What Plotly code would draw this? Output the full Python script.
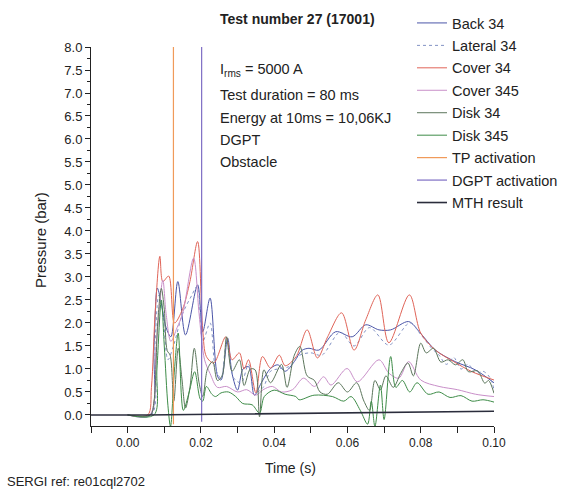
import plotly.graph_objects as go

# ---------------- data ----------------
t_cover34 = [0.0, 0.0055, 0.0065, 0.0075, 0.0088, 0.0096, 0.0112, 0.0128, 0.015, 0.017, 0.0191, 0.0205,
             0.0215, 0.0235, 0.0268, 0.0285, 0.0305, 0.0318, 0.033, 0.035, 0.0368, 0.039, 0.0414, 0.043,
             0.046, 0.049, 0.0518, 0.0546, 0.0584, 0.0618, 0.065, 0.0683, 0.0713, 0.0769, 0.080, 0.084,
             0.089, 0.094, 0.100]
p_cover34 = [0.0, 0.0, 0.6, 2.2, 3.45, 2.9, 3.02, 2.0, 2.3, 2.9, 3.77, 1.85,
             1.27, 1.13, 1.7, 1.2, 1.35, 1.0, 1.2, 0.48, 1.27, 1.02, 1.3, 1.07,
             1.27, 1.85, 1.24, 1.7, 2.22, 1.41, 2.07, 2.61, 1.57, 2.61, 1.78, 1.41,
             1.16, 0.94, 0.76]

t_back34 = [0.0, 0.0062, 0.0072, 0.0081, 0.009, 0.0105, 0.0118, 0.0137, 0.0158, 0.0191, 0.0205, 0.0225,
            0.0246, 0.0255, 0.0273, 0.0285, 0.030, 0.0315, 0.033, 0.0346, 0.0365, 0.039, 0.041, 0.043,
            0.0455, 0.0475, 0.0495, 0.0522, 0.0568, 0.0613, 0.065, 0.0686, 0.0718, 0.0767, 0.0799, 0.084,
            0.0894, 0.0949, 0.100]
p_back34 = [0.0, 0.0, 1.5, 2.76, 2.5, 1.9, 1.7, 2.9, 1.74, 2.83, 1.81, 2.54,
            0.83, 0.76, 1.67, 0.9, 0.54, 1.0, 1.05, 0.43, 0.7, 1.01, 1.09, 0.95,
            1.16, 1.4, 1.45, 1.41, 1.81, 1.7, 1.96, 1.85, 1.85, 2.03, 1.78, 1.41,
            1.16, 0.98, 0.7]

t_lateral34 = [0.0, 0.0065, 0.0075, 0.0085, 0.0095, 0.011, 0.0125, 0.015, 0.0175, 0.019, 0.0205, 0.0225,
               0.024, 0.0255, 0.027, 0.029, 0.031, 0.033, 0.035, 0.037, 0.039, 0.041, 0.044, 0.047,
               0.050, 0.053, 0.058, 0.0618, 0.066, 0.0713, 0.077, 0.080, 0.083, 0.085, 0.087, 0.089,
               0.091, 0.093, 0.095, 0.097, 0.099, 0.100]
p_lateral34 = [0.0, 0.0, 1.6, 2.6, 2.3, 1.2, 1.5, 2.2, 2.6, 2.8, 1.6, 2.0,
               1.0, 0.8, 1.6, 0.8, 0.7, 1.1, 0.5, 0.6, 0.95, 1.0, 1.05, 1.3,
               1.35, 1.3, 1.8, 1.5, 1.9, 1.52, 2.0, 1.75, 1.45, 1.3, 1.1, 1.25,
               1.0, 1.1, 0.9, 0.95, 0.8, 0.55]

t_cover345 = [0.0, 0.006, 0.0078, 0.0096, 0.0105, 0.0118, 0.0135, 0.015, 0.018, 0.0195, 0.021, 0.0225,
              0.0245, 0.027, 0.030, 0.0325, 0.035, 0.037, 0.0395, 0.042, 0.045, 0.048, 0.051, 0.0535,
              0.0555, 0.0599, 0.0627, 0.0686, 0.0713, 0.074, 0.0767, 0.080, 0.085, 0.090, 0.095, 0.100]
p_cover345 = [0.0, 0.0, 1.5, 2.93, 2.2, 1.6, 1.9, 2.2, 3.41, 2.2, 1.2, 0.9,
              0.6, 0.62, 0.5, 0.55, 0.43, 0.55, 0.62, 0.5, 0.55, 0.8, 0.62, 0.83,
              0.65, 1.01, 0.72, 1.2, 0.91, 0.8, 1.16, 0.76, 0.62, 0.55, 0.45, 0.4]

t_disk34 = [0.0, 0.0062, 0.0072, 0.0082, 0.0092, 0.010, 0.0108, 0.0116, 0.0126, 0.0138, 0.0148, 0.0158,
            0.017, 0.0182, 0.0195, 0.0205, 0.0218, 0.0232, 0.0245, 0.0258, 0.027, 0.0285, 0.0305, 0.0318,
            0.0335, 0.0348, 0.036, 0.0372, 0.039, 0.042, 0.0435, 0.0455, 0.047, 0.049, 0.051, 0.0525,
            0.0545, 0.0575, 0.060, 0.0625, 0.0645, 0.066, 0.0675, 0.069, 0.0705, 0.0725, 0.0745, 0.0765,
            0.078, 0.080, 0.0815, 0.0835, 0.0855, 0.0875, 0.0895, 0.0915, 0.093, 0.0955, 0.0975, 0.0985,
            0.100]
p_disk34 = [0.0, 0.0, 0.3, 2.0, 2.75, 2.3, 1.4, 1.3, 0.3, 1.45, 0.8, 0.15,
            0.6, 1.45, 0.7, 0.4, 1.0, 1.16, 0.75, 0.85, 1.7, 0.95, 1.2, 0.64,
            1.0, 0.98, -0.04, 0.98, 0.7, 1.1, 0.6, 1.3, 1.49, 0.85, 0.75, 0.5,
            0.45, 0.7, 0.5, 0.7, 0.3, 0.1, 0.75, 0.55, 0.85, 0.6, 0.9, 1.13,
            0.85, 1.56, 1.35, 1.45, 1.15, 1.2, 1.09, 1.2, 0.94, 0.96, 0.69, 0.75,
            0.47]

t_disk345 = [0.0, 0.0072, 0.008, 0.0092, 0.010, 0.011, 0.0117, 0.0128, 0.0138, 0.0152, 0.0168, 0.0183,
             0.0198, 0.0205, 0.0215, 0.023, 0.024, 0.0255, 0.0275, 0.0295, 0.0314, 0.034, 0.036, 0.0373,
             0.040, 0.043, 0.0459, 0.0468, 0.0509, 0.0559, 0.059, 0.061, 0.0635, 0.0655, 0.0665, 0.0675,
             0.069, 0.070, 0.0718, 0.0732, 0.075, 0.077, 0.079, 0.082, 0.085, 0.088, 0.091, 0.094,
             0.097, 0.100]
p_disk345 = [0.0, 0.0, 1.0, 2.5, 1.5, 0.2, -0.25, 1.0, 1.78, 0.1, 0.5, 0.94,
             0.35, 0.3, 0.62, 0.45, 0.4, 0.48, 0.5, 0.4, 0.25, 0.22, 0.04, 0.4,
             0.54, 0.45, 0.4, 0.33, 0.43, 0.4, 0.3, 0.4, 0.1, -0.2, 0.3, -0.25,
             0.65, -0.1, 1.27, 0.6, 0.75, 0.5, 0.7, 0.45, 0.5, 0.38, 0.42, 0.3,
             0.33, 0.28]

t_tp = [0.0125, 0.0125]
p_tp = [-0.2, 8.0]
t_dgpt = [0.0202, 0.0202]
p_dgpt = [-0.15, 8.0]

t_mth = [-0.01, 0.005, 0.03, 0.06, 0.10]
p_mth = [0.0, 0.0, 0.02, 0.05, 0.08]

x_ticks = [0.00, 0.02, 0.04, 0.06, 0.08, 0.10]

title_text = "<b>Test number 27 (17001)</b>"
info_lines = ["I<sub>rms</sub> = 5000 A", "Test duration = 80 ms", "Energy at 10ms = 10,06KJ", "DGPT", "Obstacle"]

# ---------------- figure ----------------
FONT = "Liberation Sans, Arial, sans-serif"

series = [
    ("Back 34", t_back34, p_back34, "#4b55a8", "solid", 1),
    ("Lateral 34", t_lateral34, p_lateral34, "#8292c4", "dot", 1),
    ("Cover 34", t_cover34, p_cover34, "#e06458", "solid", 1),
    ("Cover 345", t_cover345, p_cover345, "#c98fc9", "solid", 1),
    ("Disk 34", t_disk34, p_disk34, "#5b755b", "solid", 1),
    ("Disk 345", t_disk345, p_disk345, "#3e8c48", "solid", 1),
]

fig = go.Figure()
for i, (name, tx, py, col, dash, w) in enumerate(series):
    fig.add_trace(go.Scatter(x=tx, y=py, mode="lines", name=name, legendgroup=str(i),
                             line=dict(color=col, width=w, dash=dash, shape="spline", smoothing=0.9)))

fig.add_trace(go.Scatter(x=t_tp, y=p_tp, mode="lines", name="TP activation", legendgroup="6",
                         line=dict(color="#f09a5a", width=1.2)))
fig.add_trace(go.Scatter(x=t_dgpt, y=p_dgpt, mode="lines", name="DGPT activation", legendgroup="7",
                         line=dict(color="#7e6ec4", width=1.2)))
fig.add_trace(go.Scatter(x=t_mth, y=p_mth, mode="lines", name="MTH result", legendgroup="8",
                         line=dict(color="#2b2d3c", width=1.6)))

def px2x(px):
    return (px - 91) / 403.0

def py2y(py):
    return (426 - py) / 379.0

annotations = [
    dict(text=title_text, x=px2x(218), y=py2y(19), xanchor="left", yanchor="middle",
         font=dict(size=14, color="#222")),
]
for txt, py in zip(info_lines, [70, 95, 118, 140, 162]):
    annotations.append(dict(text=txt, x=px2x(218), y=py2y(py), xanchor="left", yanchor="middle",
                            font=dict(size=14.5, color="#222")))
annotations += [
    dict(text="Pressure (bar)", x=px2x(40), y=py2y(240), textangle=-90, xanchor="center", yanchor="middle",
         font=dict(size=15, color="#222")),
    dict(text="Time (s)", x=px2x(290), y=py2y(468), xanchor="center", yanchor="middle",
         font=dict(size=14, color="#222")),
    dict(text="SERGI ref: re01cql2702", x=px2x(5), y=py2y(481), xanchor="left", yanchor="middle",
         font=dict(size=13, color="#222")),
]
for a in annotations:
    a.update(xref="paper", yref="paper", showarrow=False)

fig.update_layout(
    width=570, height=490,
    margin=dict(l=91, r=76, t=47, b=64, autoexpand=False),
    paper_bgcolor="white", plot_bgcolor="white",
    font=dict(family=FONT, size=13, color="#222"),
    showlegend=True,
    legend=dict(x=px2x(412), y=py2y(7), xanchor="left", yanchor="top",
                font=dict(size=14.5, color="#222"), bgcolor="rgba(0,0,0,0)",
                tracegroupgap=0.6, itemwidth=30),
    annotations=annotations,
    xaxis=dict(range=[-0.01, 0.10], tickvals=x_ticks, tickformat=".2f", ticks="outside", ticklen=6,
               tickcolor="#222", showline=True, linecolor="#222", linewidth=1, showgrid=False,
               zeroline=False, minor=dict(dtick=0.01, tick0=0, ticks="outside", ticklen=6, tickcolor="#222"),
               tickfont=dict(size=12)),
    yaxis=dict(range=[-0.24, 8.0], dtick=0.5, tick0=0, tickformat=".1f", ticks="outside", ticklen=5,
               tickcolor="#222", showline=True, linecolor="#222", linewidth=1, showgrid=False,
               zeroline=False, minor=dict(dtick=0.25, tick0=0, ticks="outside", ticklen=3, tickcolor="#222"),
               tickfont=dict(size=13)),
)

fig.write_html("out.html")
